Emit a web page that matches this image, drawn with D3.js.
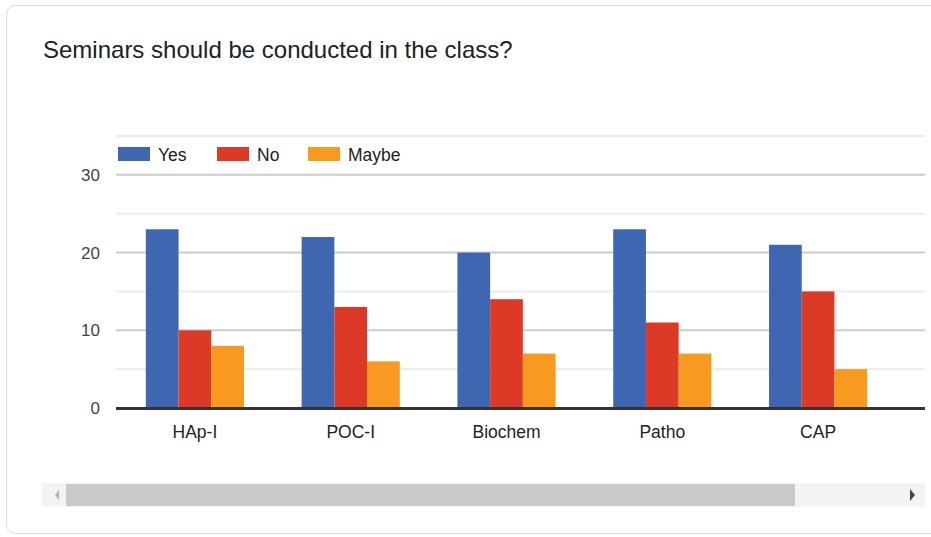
<!DOCTYPE html>
<html>
<head>
<meta charset="utf-8">
<script src="https://cdn.jsdelivr.net/npm/d3@7/dist/d3.min.js"></script>
<style>
  body { margin: 0; background: #fff; }
  svg { display: block; font-family: "Liberation Sans", Arial, sans-serif; }
</style>
</head>
<body>
<svg id="chart" width="931" height="537"></svg>
<script>
const categories = ["HAp-I", "POC-I", "Biochem", "Patho", "CAP"];
const seriesNames = ["Yes", "No", "Maybe"];
const yesValues = [23, 22, 20, 23, 21];
const noValues = [10, 13, 14, 11, 15];
const maybeValues = [8, 6, 7, 7, 5];
const colors = ["#3f67b1", "#dc3a26", "#f89a1f"];
const yTicks = [0, 10, 20, 30];
const yMinor = [5, 15, 25, 35];

const svg = d3.select("#chart");

// card
svg.append("rect")
    .attr("x", 6.5).attr("y", 5.5)
    .attr("width", 940).attr("height", 528)
    .attr("rx", 9)
    .attr("fill", "#fff")
    .attr("stroke", "#dadce0");

svg.append("text")
    .attr("x", 43).attr("y", 58)
    .attr("font-size", 24)
    .attr("fill", "#202124")
    .text("Seminars should be conducted in the class?");

const plotLeft = 116, plotRight = 925;

const x = d3.scaleBand()
    .domain(categories)
    .range([117, 896])
    .paddingInner(0.37)
    .paddingOuter(0.185);

const xs = d3.scaleBand()
    .domain(seriesNames)
    .range([0, x.bandwidth()]);

const y = d3.scaleLinear()
    .domain([0, 35])
    .range([408, 136]);

// gridlines
svg.append("g").selectAll("line")
    .data(yMinor)
    .join("line")
    .attr("x1", plotLeft).attr("x2", plotRight)
    .attr("y1", d => y(d)).attr("y2", d => y(d))
    .attr("stroke", "#ebebeb").attr("stroke-width", 2);

svg.append("g").selectAll("line")
    .data(yTicks.slice(1))
    .join("line")
    .attr("x1", plotLeft).attr("x2", plotRight)
    .attr("y1", d => y(d)).attr("y2", d => y(d))
    .attr("stroke", "#cccccc").attr("stroke-width", 2);

// y labels
svg.append("g").selectAll("text")
    .data(yTicks)
    .join("text")
    .attr("x", 100)
    .attr("y", d => y(d) + 6)
    .attr("text-anchor", "end")
    .attr("font-size", 17)
    .attr("fill", "#444")
    .text(d => d);

// bars
const table = categories.map((c, i) => ({
  cat: c,
  vals: [yesValues[i], noValues[i], maybeValues[i]]
}));

svg.append("g").selectAll("g")
    .data(table)
    .join("g")
    .attr("transform", d => `translate(${x(d.cat)},0)`)
    .selectAll("rect")
    .data(d => d.vals.map((v, j) => ({ name: seriesNames[j], v: v, j: j })))
    .join("rect")
    .attr("x", d => xs(d.name))
    .attr("width", xs.bandwidth())
    .attr("y", d => y(d.v))
    .attr("height", d => y(0) - y(d.v))
    .attr("fill", d => colors[d.j]);

// baseline
svg.append("line")
    .attr("x1", plotLeft).attr("x2", plotRight)
    .attr("y1", y(0) + 0.5).attr("y2", y(0) + 0.5)
    .attr("stroke", "#333").attr("stroke-width", 3);

// x labels
svg.append("g").selectAll("text")
    .data(categories)
    .join("text")
    .attr("x", d => x(d) + x.bandwidth() / 2)
    .attr("y", 438)
    .attr("text-anchor", "middle")
    .attr("font-size", 17.5)
    .attr("fill", "#222")
    .text(d => d);

// legend
const legendX = [118, 217, 308];
const legend = svg.append("g").selectAll("g")
    .data(seriesNames)
    .join("g")
    .attr("transform", (d, i) => `translate(${legendX[i]},147)`);
legend.append("rect")
    .attr("width", 32).attr("height", 14)
    .attr("fill", (d, i) => colors[i]);
legend.append("text")
    .attr("x", 40).attr("y", 14)
    .attr("font-size", 17.5)
    .attr("fill", "#222")
    .text(d => d);

// scrollbar
svg.append("rect")
    .attr("x", 42).attr("y", 483)
    .attr("width", 883).attr("height", 24)
    .attr("fill", "#f1f3f4");
svg.append("rect")
    .attr("x", 66).attr("y", 484)
    .attr("width", 729).attr("height", 22)
    .attr("fill", "#c8c9cb");
svg.append("path")
    .attr("d", "M59,490 L55,495 L59,500 Z")
    .attr("fill", "#b0b0b0");
svg.append("path")
    .attr("d", "M910,489 L915,495 L910,501 Z")
    .attr("fill", "#444");
</script>
</body>
</html>
